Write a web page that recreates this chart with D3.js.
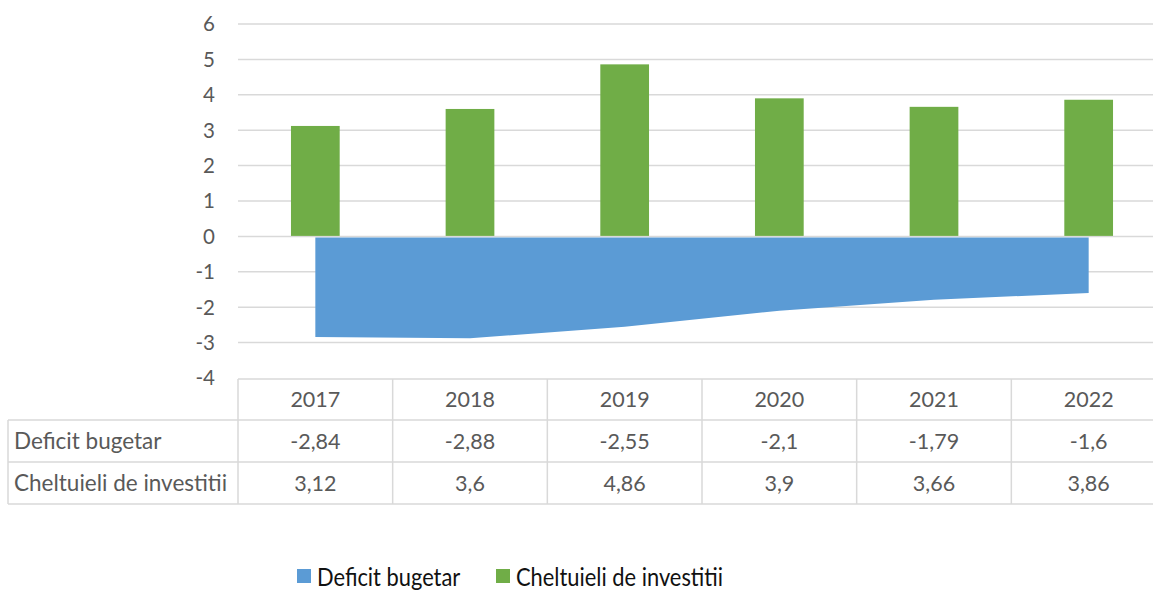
<!DOCTYPE html>
<html><head><meta charset="utf-8">
<script src="https://cdn.jsdelivr.net/npm/d3@7"></script>
<style>
html,body{margin:0;padding:0;background:#fff;overflow:hidden;}
svg text{font-family:Lato,"Open Sans",sans-serif;}
</style></head>
<body>
<svg id="c" width="1153" height="592"></svg>
<script>
const years = ["2017","2018","2019","2020","2021","2022"];
const deficit = [-2.84,-2.88,-2.55,-2.1,-1.79,-1.6];
const investitii = [3.12,3.6,4.86,3.9,3.66,3.86];
const deficitLabels = ["-2,84","-2,88","-2,55","-2,1","-1,79","-1,6"];
const investitiiLabels = ["3,12","3,6","4,86","3,9","3,66","3,86"];
const yTicks = [-4,-3,-2,-1,0,1,2,3,4,5,6];
const seriesNames = ["Deficit bugetar","Cheltuieli de investitii"];
const colors = ["#5B9BD5","#70AD47"];

const svg = d3.select("#c");
const x = d3.scaleBand().domain(years).range([238,1166]).paddingInner(0).paddingOuter(0);
const y = d3.scaleLinear().domain([-4,6]).range([378,24]);
const txt = "#595959", grid = "#d9d9d9";

// gridlines
svg.append("g").selectAll("line").data(yTicks.filter(d=>d>-4)).join("line")
  .attr("x1",238).attr("x2",1166).attr("y1",d=>y(d)).attr("y2",d=>y(d))
  .attr("stroke",grid).attr("stroke-width",1.5);

// y labels
svg.append("g").selectAll("text").data(yTicks).join("text")
  .attr("x",215).attr("y",d=>y(d)).attr("dy","0.36em").attr("text-anchor","end")
  .attr("fill",txt).attr("font-size",20.5).text(d=>d);

// area
const area = d3.area().x((d,i)=>x(years[i])+x.bandwidth()/2).y0(y(0)+1).y1(d=>y(d));
svg.append("path").datum(deficit).attr("d",area).attr("fill",colors[0]);

// bars
const bw = x.bandwidth()*0.315;
svg.append("g").selectAll("rect").data(investitii).join("rect")
  .attr("x",(d,i)=>x(years[i])+x.bandwidth()/2-bw/2).attr("width",bw)
  .attr("y",d=>y(d)).attr("height",d=>y(0)-y(d)-0.5)
  .attr("fill",colors[1]);

// table
const rows = [379,420,462,504];
const tg = svg.append("g").attr("stroke",grid).attr("stroke-width",1.5);
tg.append("line").attr("x1",238).attr("x2",1166).attr("y1",rows[0]).attr("y2",rows[0]);
[1,2,3].forEach(k=>tg.append("line").attr("x1",8).attr("x2",1166).attr("y1",rows[k]).attr("y2",rows[k]));
tg.append("line").attr("x1",8).attr("x2",8).attr("y1",rows[1]).attr("y2",rows[3]);
years.forEach(yr=>tg.append("line").attr("x1",x(yr)).attr("x2",x(yr)).attr("y1",rows[0]).attr("y2",rows[3]));
tg.append("line").attr("x1",1166).attr("x2",1166).attr("y1",rows[0]).attr("y2",rows[3]);

const cx = yr=>x(yr)+x.bandwidth()/2;
svg.append("g").selectAll("text").data(years).join("text")
  .attr("x",cx).attr("y",(rows[0]+rows[1])/2).attr("dy","0.36em").attr("text-anchor","middle")
  .attr("fill",txt).attr("font-size",21.5).text(d=>d);
[deficitLabels,investitiiLabels].forEach((arr,r)=>{
  svg.append("g").selectAll("text").data(arr).join("text")
    .attr("x",(d,i)=>cx(years[i])).attr("y",(rows[r+1]+rows[r+2])/2).attr("dy","0.36em").attr("text-anchor","middle")
    .attr("fill",txt).attr("font-size",21.5).text(d=>d);
  svg.append("text").attr("x",14).attr("y",(rows[r+1]+rows[r+2])/2).attr("dy","0.36em")
    .attr("fill",txt).attr("font-size",22.5).text(seriesNames[r]);
});

// legend
const lg = svg.append("g");
const lx = [297,496];
seriesNames.forEach((n,i)=>{
  lg.append("rect").attr("x",lx[i]).attr("y",569).attr("width",14).attr("height",14).attr("fill",colors[i]);
  lg.append("text").attr("transform",`translate(${lx[i]+20},586) scale(0.875,1)`)
    .attr("font-size",25).attr("fill","#111").text(n);
});
</script>
</body></html>
